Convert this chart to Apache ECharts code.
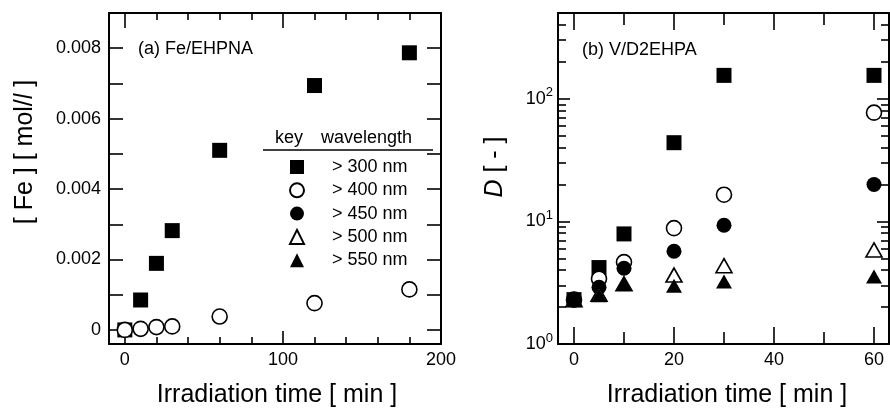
<!DOCTYPE html>
<html>
<head>
<meta charset="utf-8">
<script src="https://cdn.jsdelivr.net/npm/echarts@6.0.0/dist/echarts.min.js"></script>
<style>
html,body{margin:0;padding:0;background:#fff;}
#chart{width:890px;height:409px;}
</style>
</head>
<body>
<div id="chart"></div>
<script>
// ---------- data ----------
var seriesNames = ['> 300 nm', '> 400 nm', '> 450 nm', '> 500 nm', '> 550 nm'];

// (a) Fe/EHPNA : [Fe] mol/l vs irradiation time (min)
var feTime = [0, 10, 20, 30, 60, 120, 180];
var fe300 = [0, 0.00085, 0.00189, 0.00282, 0.0051, 0.00694, 0.00787];
var fe400 = [0, 0.00003, 0.00008, 0.0001, 0.00038, 0.00076, 0.00115];

// (b) V/D2EHPA : D vs irradiation time (min)
var vTime = [0, 5, 10, 20, 30, 60];
var v300 = [2.3, 4.2, 7.9, 43.8, 155, 155];
var v400 = [2.3, 3.4, 4.65, 8.8, 16.5, 77];
var v450 = [2.3, 2.9, 4.15, 5.7, 9.3, 20];
var v500 = [2.3, 2.55, 3.1, 3.65, 4.35, 5.85];
var v550 = [2.3, 2.5, 3.08, 2.98, 3.23, 3.55];

// tick values
var feXMajor = [0, 100, 200];
var feXMinor = [20, 40, 60, 80, 120, 140, 160, 180];
var feYTicks = [0, 0.001, 0.002, 0.003, 0.004, 0.005, 0.006, 0.007, 0.008];
var feYLabels = [0, 0.002, 0.004, 0.006, 0.008];
var vXMajor = [0, 20, 40, 60];
var vXMinor = [10, 30, 50];
var vYMajor = [1, 10, 100];
var vYMinor = [2, 3, 4, 5, 6, 7, 8, 9, 20, 30, 40, 50, 60, 70, 80, 90, 200, 300, 400, 500];

// ---------- helpers ----------
var FONT = '"Liberation Sans", Arial, Helvetica, sans-serif';
function zip(xs, ys) { return xs.map(function (x, i) { return [x, ys[i]]; }); }

function xAx(grid, pos, min, max, ticks, len, labels, showLine) {
  return {
    type: 'value', gridIndex: grid, position: pos, min: min, max: max,
    axisLine: { show: showLine, onZero: false, lineStyle: { color: '#000', width: 2 } },
    axisTick: { show: true, inside: true, length: len, customValues: ticks, lineStyle: { color: '#000', width: 1.6 } },
    axisLabel: labels ? { show: true, customValues: labels, fontSize: 18, color: '#000', fontFamily: FONT, margin: 7 } : { show: false },
    splitLine: { show: false }
  };
}
function yAx(grid, pos, type, min, max, ticks, len, labelOpt, showLine) {
  return {
    type: type, gridIndex: grid, position: pos, min: min, max: max,
    axisLine: { show: showLine, onZero: false, lineStyle: { color: '#000', width: 2 } },
    axisTick: { show: true, inside: true, length: len, customValues: ticks, lineStyle: { color: '#000', width: 1.6 } },
    axisLabel: labelOpt || { show: false },
    splitLine: { show: false }
  };
}

var openStyle = { color: '#fff', borderColor: '#000', borderWidth: 1.6, opacity: 1 };
var fillStyle = { color: '#000', borderColor: '#000', borderWidth: 0, opacity: 1 };
function sc(name, xi, yi, data, symbol, size, style) {
  return {
    name: name, type: 'scatter', xAxisIndex: xi, yAxisIndex: yi, data: data,
    symbol: symbol, symbolSize: size, itemStyle: style, silent: true, clip: false,
    emphasis: { disabled: true }
  };
}

var chart = echarts.init(document.getElementById('chart'), null, { renderer: 'canvas' });

var option = {
  backgroundColor: '#fff',
  animation: false,
  textStyle: { fontFamily: FONT },
  grid: [
    { left: 109, top: 13, width: 332, height: 331 },
    { left: 558, top: 13, width: 331, height: 331 }
  ],
  xAxis: [
    xAx(0, 'bottom', -10, 200, feXMajor, 13, feXMajor, true),
    xAx(0, 'bottom', -10, 200, feXMinor, 7, null, false),
    xAx(0, 'top', -10, 200, feXMajor, 15, null, true),
    xAx(0, 'top', -10, 200, feXMinor, 7, null, false),
    xAx(1, 'bottom', -3.2, 63, vXMajor, 17, vXMajor, true),
    xAx(1, 'bottom', -3.2, 63, vXMinor, 12, null, false),
    xAx(1, 'top', -3.2, 63, vXMajor, 17, null, true),
    xAx(1, 'top', -3.2, 63, vXMinor, 12, null, false)
  ],
  yAxis: [
    yAx(0, 'left', 'value', -0.0004, 0.009, feYTicks, 14, {
      show: true, customValues: feYLabels, fontSize: 18, color: '#000', fontFamily: FONT, margin: 8,
      formatter: function (v) { return v === 0 ? '0' : v.toFixed(3); }
    }, true),
    yAx(0, 'right', 'value', -0.0004, 0.009, feYTicks, 14, null, true),
    yAx(1, 'left', 'log', 1, 500, vYMajor, 12, {
      show: true, customValues: vYMajor, color: '#000', fontFamily: FONT, margin: 5,
      formatter: function (v) { return '{b|10}{s|' + Math.round(Math.log10(v)) + '}'; },
      rich: {
        b: { fontSize: 18, color: '#000', fontFamily: FONT },
        s: { fontSize: 13, color: '#000', fontFamily: FONT, padding: [0, 0, 12, 0] }
      }
    }, true),
    yAx(1, 'left', 'log', 1, 500, vYMinor, 8, null, false),
    yAx(1, 'right', 'log', 1, 500, vYMajor, 12, null, true),
    yAx(1, 'right', 'log', 1, 500, vYMinor, 8, null, false)
  ],
  legend: {
    orient: 'vertical', left: 284, top: 153,
    itemWidth: 14, itemHeight: 14, itemGap: 5.3,
    selectedMode: false,
    data: seriesNames,
    textStyle: { fontSize: 18, lineHeight: 18, color: '#000', fontFamily: FONT, padding: [0, 0, 0, 23] }
  },
  series: [
    sc(seriesNames[0], 0, 0, zip(feTime, fe300), 'rect', 15, fillStyle),
    sc(seriesNames[1], 0, 0, zip(feTime, fe400), 'circle', 15, openStyle),
    sc(seriesNames[0], 4, 2, zip(vTime, v300), 'rect', 15, fillStyle),
    sc(seriesNames[1], 4, 2, zip(vTime, v400), 'circle', 15, openStyle),
    sc(seriesNames[2], 4, 2, zip(vTime, v450), 'circle', 15, fillStyle),
    sc(seriesNames[3], 4, 2, zip(vTime, v500), 'triangle', [16, 14], openStyle),
    sc(seriesNames[4], 4, 2, zip(vTime, v550), 'triangle', [16, 14], fillStyle)
  ],
  graphic: [
    { type: 'text', left: 138, top: 40, style: { text: '(a) Fe/EHPNA', font: '18px ' + FONT, fill: '#000' } },
    { type: 'text', left: 582, top: 41, style: { text: '(b) V/D2EHPA', font: '18px ' + FONT, fill: '#000' } },
    { type: 'text', left: 275, top: 129, style: { text: 'key', font: '18px ' + FONT, fill: '#000' } },
    { type: 'text', left: 321, top: 129, style: { text: 'wavelength', font: '18px ' + FONT, fill: '#000' } },
    { type: 'line', shape: { x1: 263, y1: 150, x2: 433, y2: 150 }, style: { stroke: '#000', lineWidth: 1.5 } },
    { type: 'text', x: 277, y: 395, style: { text: 'Irradiation time [ min ]', font: '25px ' + FONT, fill: '#000', align: 'center', verticalAlign: 'middle' } },
    { type: 'text', x: 727, y: 395, style: { text: 'Irradiation time [ min ]', font: '25px ' + FONT, fill: '#000', align: 'center', verticalAlign: 'middle' } },
    { type: 'text', x: 25, y: 152, rotation: Math.PI / 2,
      style: { text: '[ Fe ] [ mol/{i|l} ]', font: '25px ' + FONT, fill: '#000', align: 'center', verticalAlign: 'middle',
        rich: { i: { fontStyle: 'italic', fontSize: 25, fontFamily: FONT } } } },
    { type: 'text', x: 495, y: 167, rotation: Math.PI / 2,
      style: { text: '{i|D} [ - ]', font: '25px ' + FONT, fill: '#000', align: 'center', verticalAlign: 'middle',
        rich: { i: { fontStyle: 'italic', fontSize: 25, fontFamily: FONT } } } }
  ]
};
chart.setOption(option);
</script>
</body>
</html>
